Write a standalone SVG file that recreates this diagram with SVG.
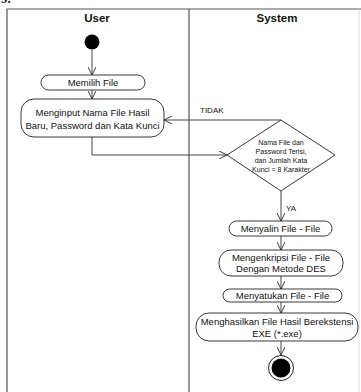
<svg xmlns="http://www.w3.org/2000/svg" width="361" height="392" viewBox="0 0 361 392">
<defs>
<style>
.lane{fill:none;stroke:#555;stroke-width:1.2}
.act{fill:#fff;stroke:#222;stroke-width:0.9}
.t{font-family:"Liberation Sans",Arial,sans-serif;font-size:9.5px;fill:#111;text-anchor:middle}
.d{font-family:"Liberation Sans",Arial,sans-serif;font-size:7px;fill:#111;text-anchor:middle}
.h{font-family:"Liberation Sans",Arial,sans-serif;font-size:11.5px;font-weight:bold;fill:#111;text-anchor:middle}
.lbl{font-family:"Liberation Sans",Arial,sans-serif;font-size:8px;fill:#111}
.c{fill:none;stroke:#333;stroke-width:0.9;marker-end:url(#ah)}
</style>
<marker id="ah" viewBox="0 0 10 10" refX="10" refY="5" markerWidth="8" markerHeight="8" markerUnits="userSpaceOnUse" orient="auto">
<path d="M0,0 L10,5 L0,10" fill="none" stroke="#333" stroke-width="1.2"/>
</marker>
</defs>
<rect width="361" height="392" fill="#fff"/>
<text x="1" y="3" style="font-family:'Liberation Serif',serif;font-size:13px;font-weight:bold;fill:#111">9.</text>
<g id="lanes">
<path class="lane" d="M7,392 V9 H361"/>
<line class="lane" x1="189" y1="9" x2="189" y2="392"/>
<line x1="359" y1="9" x2="359" y2="392" stroke="#ddd" stroke-width="1"/>
<text class="h" x="97" y="22">User</text>
<text class="h" x="277" y="22">System</text>
</g>
<g id="connectors">
<path class="c" d="M92,50 V75"/>
<path class="c" d="M92,90 V99"/>
<path class="c" d="M92,137 V155 H227"/>
<path class="c" d="M281,120 H164"/>
<text class="lbl" x="200" y="113">TIDAK</text>
<path class="c" d="M281,191 V221"/>
<text class="lbl" x="286" y="211">YA</text>
<path class="c" d="M281,236 V250"/>
<path class="c" d="M281,276 V289"/>
<path class="c" d="M281,302 V313"/>
<path class="c" d="M281,341 V355"/>
</g>
<g id="start"><circle cx="92" cy="42" r="7.5" fill="#000"/></g>
<g id="memilih">
<rect class="act" x="41" y="75" width="104" height="15" rx="7.5"/>
<text class="t" x="93" y="86">Memilih File</text>
</g>
<g id="menginput">
<rect class="act" x="21" y="99" width="143" height="38" rx="13"/>
<text class="t" x="92.5" y="116">Menginput Nama File Hasil</text>
<text class="t" x="92.5" y="129">Baru, Password dan Kata Kunci</text>
</g>
<g id="decision">
<polygon class="act" points="281,120 335,155 281,191 227,155"/>
<text class="d" x="281" y="145">Nama File dan</text>
<text class="d" x="281" y="154">Password Terisi,</text>
<text class="d" x="281" y="163">dan Jumlah Kata</text>
<text class="d" x="281" y="172">Kunci = 8 Karakter</text>
</g>
<g id="menyalin">
<rect class="act" x="229" y="221" width="103" height="15" rx="7.5"/>
<text class="t" x="280.5" y="232">Menyalin File - File</text>
</g>
<g id="mengenkripsi">
<rect class="act" x="219" y="250" width="124" height="26" rx="12"/>
<text class="t" x="281" y="261">Mengenkripsi File - File</text>
<text class="t" x="281" y="272">Dengan Metode DES</text>
</g>
<g id="menyatukan">
<rect class="act" x="223" y="289" width="119" height="13" rx="6.5"/>
<text class="t" x="282.5" y="299">Menyatukan File - File</text>
</g>
<g id="menghasilkan">
<rect class="act" x="196" y="313" width="162" height="28" rx="13"/>
<text class="t" x="277" y="325">Menghasilkan File Hasil Berekstensi</text>
<text class="t" x="277" y="337">EXE (*.exe)</text>
</g>
<g id="end">
<circle cx="281" cy="368" r="12.5" fill="#fff" stroke="#222" stroke-width="1"/>
<circle cx="281" cy="368" r="9.5" fill="#000"/>
</g>
</svg>
